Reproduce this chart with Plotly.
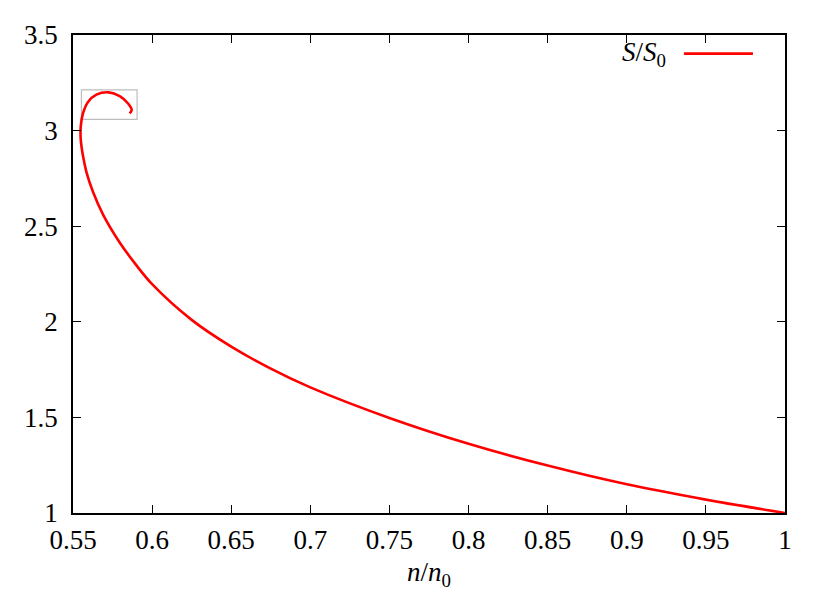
import plotly.graph_objects as go

# n/n0 and S/S0
n_ratio = [1.0, 0.95, 0.9, 0.85, 0.8, 0.75, 0.7, 0.675, 0.65, 0.625, 0.6,
           0.5901, 0.5795, 0.5690, 0.5626, 0.5585, 0.5563, 0.5549, 0.5549, 0.5563,
           0.5595, 0.5648, 0.5726, 0.5795, 0.5848, 0.5871, 0.5858]
s_ratio = [1.0, 1.07, 1.15, 1.248, 1.362, 1.497, 1.657, 1.755, 1.87, 2.01, 2.197,
           2.295, 2.415, 2.561, 2.68, 2.783, 2.868, 2.954, 3.022, 3.09,
           3.15, 3.188, 3.20, 3.18, 3.142, 3.108, 3.09]

x_ticks = [0.55, 0.6, 0.65, 0.7, 0.75, 0.8, 0.85, 0.9, 0.95, 1]
x_tick_text = ["0.55", "0.6", "0.65", "0.7", "0.75", "0.8", "0.85", "0.9", "0.95", "1"]
y_ticks = [1, 1.5, 2, 2.5, 3, 3.5]
y_tick_text = ["1", "1.5", "2", "2.5", "3", "3.5"]

FONT = "Liberation Serif"

fig = go.Figure()
fig.add_trace(go.Scatter(
    x=n_ratio, y=s_ratio, mode="lines",
    line=dict(color="#ff0000", width=2.6, shape="spline", smoothing=0.9),
    showlegend=False, hoverinfo="skip",
))

axis_common = dict(
    showline=True, linecolor="black", linewidth=1.5, mirror="ticks",
    ticks="inside", ticklen=8, tickwidth=1.2, tickcolor="black",
    showgrid=False, zeroline=False,
    tickfont=dict(family=FONT, size=27, color="black"),
)

fig.update_layout(
    width=823, height=595,
    margin=dict(l=65, r=46, t=20, b=90),
    paper_bgcolor="white", plot_bgcolor="white",
    xaxis=dict(range=[0.55, 1], tickvals=x_ticks, ticktext=x_tick_text, ticklabelstandoff=2,
               title=dict(text="<i>n</i>/<i>n</i><sub>0</sub>",
                          font=dict(family=FONT, size=27, color="black"), standoff=8),
               **axis_common),
    yaxis=dict(range=[1, 3.5], tickvals=y_ticks, ticktext=y_tick_text, ticklabelstandoff=8,
               **axis_common),
    shapes=[
        dict(type="rect", xref="x", yref="y", x0=0.5553, x1=0.5905, y0=3.059, y1=3.213,
             line=dict(color="#bdbdbd", width=1.2), layer="below"),
        dict(type="line", xref="paper", yref="paper", x0=0.858, x1=0.955, y0=0.961, y1=0.961,
             line=dict(color="#ff0000", width=2.6)),
    ],
    annotations=[
        dict(text="<i>S</i>/<i>S</i><sub>0</sub>", xref="paper", yref="paper",
             x=0.836, y=0.961, xanchor="right", yanchor="middle", showarrow=False,
             font=dict(family=FONT, size=27, color="black")),
    ],
)

fig.write_html("out.html")
